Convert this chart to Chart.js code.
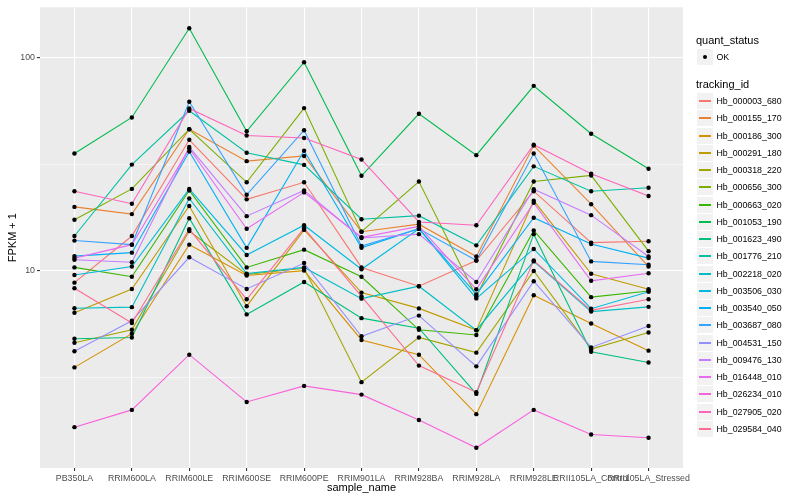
<!DOCTYPE html>
<html>
<head>
<meta charset="utf-8">
<script src="https://cdn.jsdelivr.net/npm/chart.js@4.4.1/dist/chart.umd.min.js"></script>
<style>
  html, body { margin: 0; padding: 0; background: #ffffff; }
  #wrap { position: relative; width: 800px; height: 500px; font-family: "Liberation Sans", Arial, Helvetica, sans-serif; }
  #c { position: absolute; left: 0; top: 0; }
  .lg { position: absolute; white-space: nowrap; color: #000; }
</style>
</head>
<body>
<div id="wrap">
  <canvas id="c" width="800" height="500"></canvas>
  <div id="legend"></div>
</div>
<script>
const FONT = '"Liberation Sans", Arial, Helvetica, sans-serif';

// ---- data ----
const categories = ["PB350LA", "RRIM600LA", "RRIM600LE", "RRIM600SE", "RRIM600PE", "RRIM901LA",
  "RRIM928BA", "RRIM928LA", "RRIM928LE", "RRII105LA_Control", "RRII105LA_Stressed"];

const trackingIds = ["Hb_000003_680", "Hb_000155_170", "Hb_000186_300", "Hb_000291_180", "Hb_000318_220",
  "Hb_000656_300", "Hb_000663_020", "Hb_001053_190", "Hb_001623_490", "Hb_001776_210",
  "Hb_002218_020", "Hb_003506_030", "Hb_003540_050", "Hb_003687_080", "Hb_004531_150",
  "Hb_009476_130", "Hb_016448_010", "Hb_026234_010", "Hb_027905_020", "Hb_029584_040"];

const hb_000003_680 = [8.82, 14.6, 41.3, 21.7, 26.1, 10.4, 8.49, 11.2, 23.7, 13.6, 13.8];
const hb_000155_170 = [20.0, 18.5, 46.3, 32.8, 34.7, 15.3, 16.6, 11.7, 38.8, 20.6, 10.5];
const hb_000186_300 = [3.53, 5.08, 13.3, 9.53, 10.05, 4.75, 4.05, 2.13, 7.70, 5.67, 4.23];
const hb_000291_180 = [6.37, 8.24, 20.2, 6.84, 15.6, 7.92, 6.68, 5.28, 21.4, 9.71, 8.21];
const hb_000318_220 = [4.61, 5.30, 15.4, 9.63, 10.3, 3.01, 4.88, 4.14, 10.0, 4.30, 5.15];
const hb_000656_300 = [17.4, 24.3, 46.3, 26.1, 58.2, 15.3, 26.3, 7.60, 26.3, 28.1, 12.4];
const hb_000663_020 = [10.4, 9.40, 23.9, 10.4, 12.6, 9.40, 5.30, 5.01, 15.5, 7.54, 8.06];
const hb_001053_190 = [35.6, 52.6, 138, 45.3, 95.5, 28.0, 54.7, 35.0, 74.0, 44.1, 30.2];
const hb_001623_490 = [4.81, 4.88, 17.7, 6.26, 8.89, 6.01, 5.39, 2.65, 14.9, 4.18, 3.72];
const hb_001776_210 = [14.6, 31.6, 56.5, 35.9, 31.5, 17.5, 18.2, 13.2, 31.0, 23.7, 24.6];
const hb_002218_020 = [6.69, 6.77, 21.9, 9.73, 10.4, 7.42, 8.49, 5.28, 11.1, 6.45, 6.79];
const hb_003506_030 = [9.58, 10.5, 24.3, 11.9, 16.4, 10.2, 15.8, 7.44, 12.7, 6.66, 8.00];
const hb_003540_050 = [11.75, 12.2, 36.4, 12.85, 36.7, 12.85, 15.8, 7.77, 17.8, 13.4, 11.5];
const hb_003687_080 = [13.9, 13.3, 62.3, 22.8, 45.8, 13.1, 15.8, 11.2, 35.6, 11.1, 10.7];
const hb_004531_150 = [4.20, 5.84, 11.6, 8.24, 10.9, 4.94, 6.18, 3.57, 8.96, 4.38, 5.52];
const hb_009476_130 = [11.3, 11.0, 38.2, 18.1, 23.9, 14.3, 14.9, 8.89, 24.2, 18.3, 11.7];
const hb_016448_010 = [11.5, 13.3, 37.6, 15.8, 23.4, 14.4, 16.2, 8.21, 20.9, 9.00, 9.77];
const hb_026234_010 = [1.85, 2.23, 4.05, 2.43, 2.89, 2.63, 2.00, 1.48, 2.23, 1.71, 1.65];
const hb_027905_020 = [23.7, 20.7, 58.0, 43.3, 42.1, 33.4, 17.0, 16.4, 39.2, 28.6, 22.5];
const hb_029584_040 = [8.30, 5.70, 15.7, 7.37, 15.9, 7.60, 3.60, 2.70, 11.2, 6.54, 7.37];

const seriesValues = [hb_000003_680, hb_000155_170, hb_000186_300, hb_000291_180, hb_000318_220,
  hb_000656_300, hb_000663_020, hb_001053_190, hb_001623_490, hb_001776_210,
  hb_002218_020, hb_003506_030, hb_003540_050, hb_003687_080, hb_004531_150,
  hb_009476_130, hb_016448_010, hb_026234_010, hb_027905_020, hb_029584_040];

const quantStatus = ["OK"];
const yGridValues = [3.1623, 10, 31.623, 100];
const yLabelledValues = [10, 100];
const yTickLabels = ["10", "100"];

// ---- styles ----
const lineColors = ["#F8766D", "#EA8331", "#D89000", "#C09B00", "#A3A500", "#7CAE00", "#39B600", "#00BB4E",
  "#00BF7D", "#00C1A3", "#00BFC4", "#00BAE0", "#00B0F6", "#35A2FF", "#9590FF", "#C77CFF",
  "#E76BF3", "#FA62DB", "#FF62BC", "#FF6C91"];

const datasets = seriesValues.map((vals, i) => ({
  label: trackingIds[i],
  data: vals.map((v, j) => ({ x: j, y: v })),
  borderColor: lineColors[i],
  backgroundColor: lineColors[i],
  borderWidth: 1.1,
  pointRadius: 0,
  tension: 0,
  fill: false,
  order: seriesValues.length - i
}));
datasets.push({
  label: quantStatus[0],
  data: seriesValues.flatMap(vals => vals.map((v, j) => ({ x: j, y: v }))),
  showLine: false,
  pointRadius: 2.2,
  pointBackgroundColor: "#000000",
  pointBorderWidth: 0,
  order: -1
});

const isMajor = v => yLabelledValues.some(m => Math.abs(m - v) < 1e-6);

const panelBg = {
  id: "panelBg",
  beforeDraw(chart) {
    const { ctx, chartArea: a } = chart;
    ctx.save();
    ctx.fillStyle = "#EBEBEB";
    ctx.fillRect(a.left, a.top, a.right - a.left, a.bottom - a.top);
    ctx.restore();
  }
};

new Chart(document.getElementById("c"), {
  type: "line",
  data: { datasets },
  plugins: [panelBg],
  options: {
    responsive: false,
    animation: false,
    layout: { padding: { left: 0, right: 117, top: 5, bottom: 0 } },
    plugins: { legend: { display: false }, tooltip: { enabled: false } },
    scales: {
      x: {
        type: "linear",
        min: -0.6,
        max: 10.6,
        afterBuildTicks(s) { s.ticks = categories.map((_, i) => ({ value: i })); },
        afterFit(s) { s.height = 32; },
        ticks: {
          callback: v => (categories[v] !== undefined ? categories[v] : ""),
          autoSkip: false, maxRotation: 0, minRotation: 0,
          color: "#4D4D4D", font: { family: FONT, size: 8.8 }, padding: 2
        },
        grid: { color: "#FFFFFF", lineWidth: 1.1, tickColor: "#333333", tickLength: 3, drawTicks: true },
        border: { display: false },
        title: { display: true, text: "sample_name", color: "#000000", font: { family: FONT, size: 11 }, padding: { top: 0, bottom: 5 } }
      },
      y: {
        type: "logarithmic",
        min: 1.19,
        max: 173,
        afterBuildTicks(s) { s.ticks = yGridValues.map(v => ({ value: v })); },
        afterFit(s) { s.width = 40; },
        ticks: {
          callback: v => { const k = yLabelledValues.findIndex(m => Math.abs(m - v) < 1e-6); return k >= 0 ? yTickLabels[k] : ""; },
          autoSkip: false,
          color: "#4D4D4D", font: { family: FONT, size: 8.8 }, padding: 2
        },
        grid: {
          color: "#FFFFFF",
          lineWidth: c => (c.tick && isMajor(c.tick.value) ? 1.1 : 0.55),
          tickColor: c => (c.tick && isMajor(c.tick.value) ? "#333333" : "rgba(0,0,0,0)"),
          tickLength: 3, drawTicks: true
        },
        border: { display: false },
        title: { display: true, text: "FPKM + 1", color: "#000000", font: { family: FONT, size: 11 }, padding: { top: 6, bottom: 0 } }
      }
    }
  }
});

// ---- legend (HTML text) ----
const lg = document.getElementById("legend");
function add(html, style) {
  const d = document.createElement("div");
  d.className = "lg";
  d.innerHTML = html;
  Object.assign(d.style, style);
  lg.appendChild(d);
  return d;
}
add("quant_status", { left: "696px", top: "33px", fontSize: "11px", lineHeight: "14px" });
add("", { left: "697px", top: "49px", width: "16px", height: "16px", background: "#F2F2F2" });
add("", { left: "703px", top: "55px", width: "4.4px", height: "4.4px", background: "#000", borderRadius: "50%" });
add(quantStatus[0], { left: "716.5px", top: "51px", fontSize: "8.8px", lineHeight: "12px" });
add("tracking_id", { left: "696px", top: "77px", fontSize: "11px", lineHeight: "14px" });
trackingIds.forEach((id, i) => {
  const cy = Math.round(101 + i * 17.25);
  add("", { left: "697px", top: (cy - 8) + "px", width: "16px", height: "16px", background: "#F2F2F2" });
  add("", { left: "699px", top: (cy - 1) + "px", width: "12px", height: "2px", background: lineColors[i] });
  add(id, { left: "716.5px", top: (cy - 6) + "px", fontSize: "8.8px", lineHeight: "12px" });
});
</script>
</body>
</html>
